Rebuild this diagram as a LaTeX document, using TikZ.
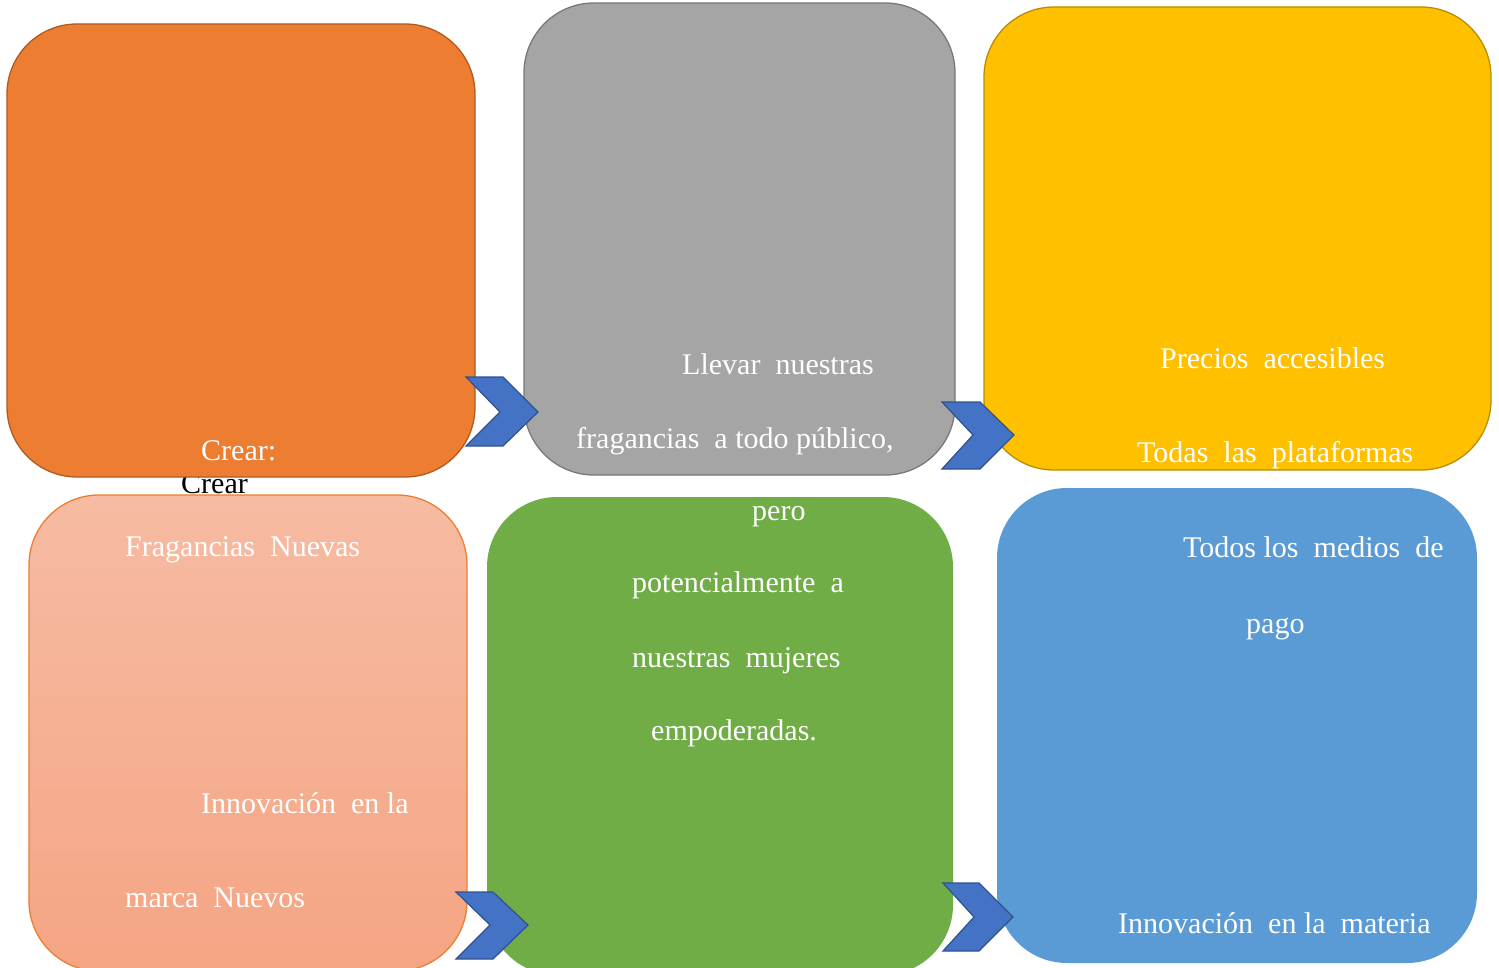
\documentclass[tikz,border=0pt]{standalone}
\usepackage{fontspec}
\setmainfont{Liberation Serif}
\definecolor{orangeF}{HTML}{ED7D31}
\definecolor{orangeD}{HTML}{AE5A21}
\definecolor{grayF}{HTML}{A5A5A5}
\definecolor{grayD}{HTML}{787878}
\definecolor{goldF}{HTML}{FFC000}
\definecolor{goldD}{HTML}{BC8C00}
\definecolor{salmonT}{HTML}{F6BBA2}
\definecolor{salmonB}{HTML}{F5A584}
\definecolor{greenF}{HTML}{70AD47}
\definecolor{blueF}{HTML}{5B9BD5}
\definecolor{chevF}{HTML}{4472C4}
\definecolor{chevD}{HTML}{2F528F}
\tikzset{
  card/.style={rectangle, rounded corners=70pt, inner sep=0pt, outer sep=0pt, line width=1.3pt},
  chev/.style={fill=chevF, draw=chevD, line width=1.2pt, line join=miter},
  txt/.style={anchor=base west, inner sep=0pt, text=white, font=\fontsize{30}{36}\selectfont},
  blk/.style={txt, text=black},
}
\begin{document}
\begin{tikzpicture}[x=1pt, y=-1pt]
\useasboundingbox (0,0) rectangle (1499,968);
\clip (0,0) rectangle (1499,968);

% stray label partly hidden by the cards
\node[blk] (crearb) at (181,493) {Crear};

% six cards
\node[card, fill=orangeF, draw=orangeD, minimum width=468pt, minimum height=453pt] (b1) at (241,250.5) {};
\node[card, fill=grayF, draw=grayD, minimum width=431pt, minimum height=472pt] (b2) at (739.5,239) {};
\node[card, fill=goldF, draw=goldD, minimum width=507pt, minimum height=463pt] (b3) at (1237.5,238.5) {};
\node[card, top color=salmonT, bottom color=salmonB, draw=orangeF, minimum width=438pt, minimum height=476pt] (b4) at (248,733) {};
\node[card, fill=greenF, minimum width=466pt, minimum height=478pt] (b5) at (720,736) {};
\node[card, fill=blueF, minimum width=480pt, minimum height=475pt] (b6) at (1237,725.5) {};

% chevrons between cards
\draw[chev] (466,377) -- (503,377) -- (538,412) -- (503,446) -- (466,446) -- (500,412) -- cycle;
\draw[chev] (942,402) -- (980,402) -- (1014,435) -- (980,469) -- (942,469) -- (973,435) -- cycle;
\draw[chev] (456,892) -- (493,892) -- (528,925) -- (493,959) -- (456,959) -- (490,925) -- cycle;
\draw[chev] (943,883) -- (979,883) -- (1013,917) -- (979,951) -- (943,951) -- (974,917) -- cycle;

% texts
\node[txt] (t1) at (201,460) {Crear:};
\node[txt] (t2) at (125,556) {Fragancias\ \ Nuevas};
\node[txt] (t3) at (201,813) {Innovación\ \ en la};
\node[txt] (t4) at (125,907) {marca\ \ Nuevos};

\node[txt] (t5) at (682,374) {Llevar\ \ nuestras};
\node[txt] (t6) at (576,448) {fragancias\ \ a todo público,};
\node[txt] (t7) at (752,520) {pero};
\node[txt] (t8) at (632,592) {potencialmente\ \ a};
\node[txt] (t9) at (632,667) {nuestras\ \ mujeres};
\node[txt] (t10) at (651,740) {empoderadas.};

\node[txt] (t11) at (1160,368) {Precios\ \ accesibles};
\node[txt] (t12) at (1137,462) {Todas\ \ las\ \ plataformas};
\node[txt] (t13) at (1183,557) {Todos\ los\ \ medios\ \ de};
\node[txt] (t14) at (1246,633) {pago};
\node[txt] (t15) at (1118,933) {Innovación\ \ en la\ \ materia};
\end{tikzpicture}
\end{document}
